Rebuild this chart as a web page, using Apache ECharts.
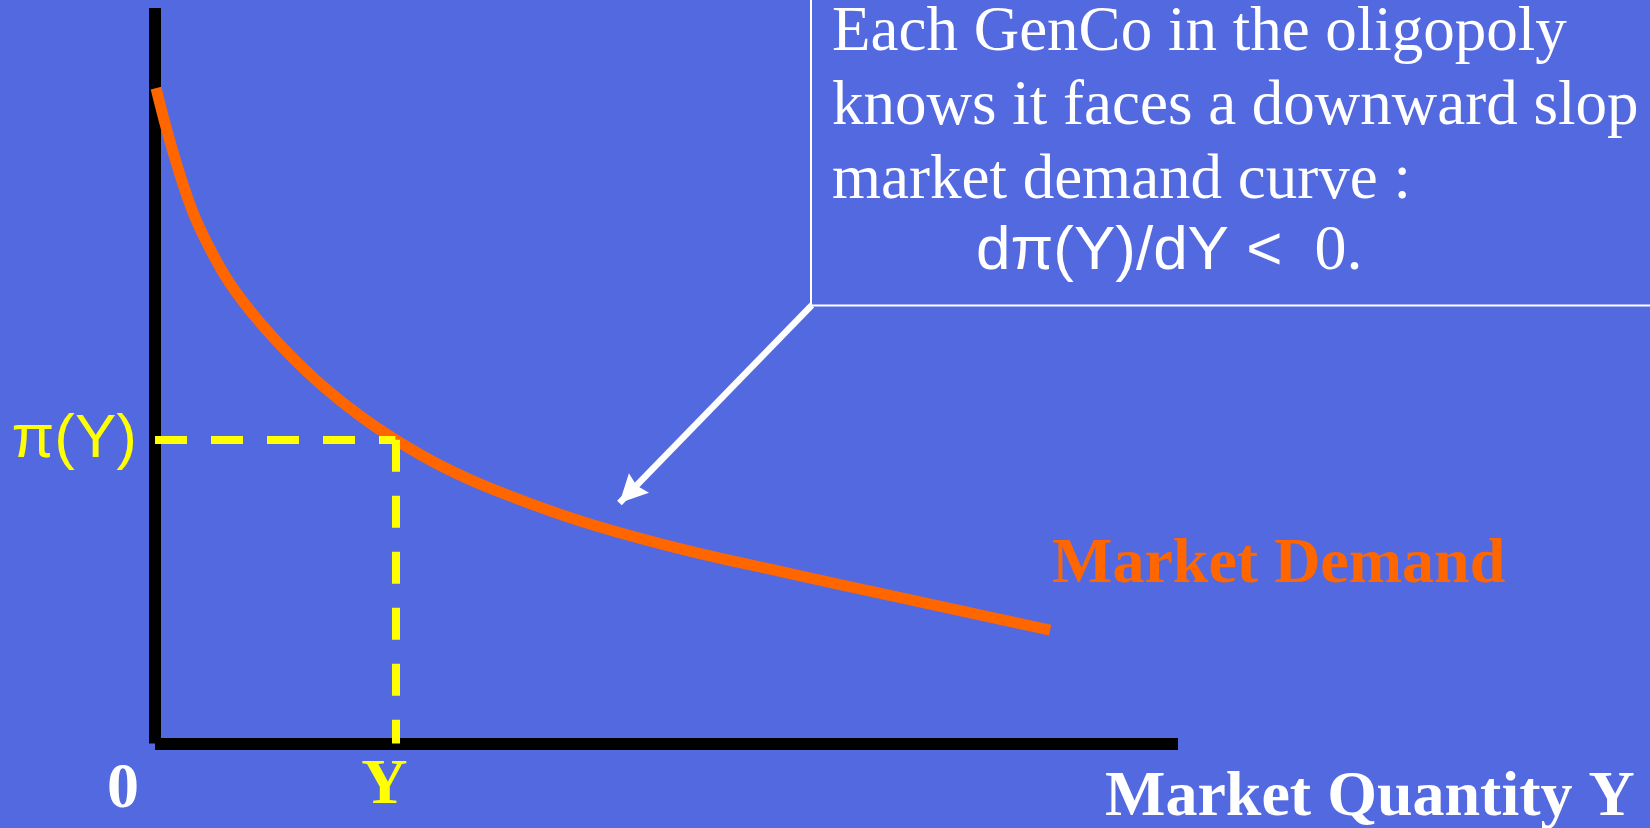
<!DOCTYPE html>
<html>
<head>
<meta charset="utf-8">
<style>
html, body { margin: 0; padding: 0; background: #5369e0; }
#chart { width: 1650px; height: 828px; }
</style>
<script src="https://cdn.jsdelivr.net/npm/echarts@6/dist/echarts.min.js"></script>
</head>
<body>
<div id="chart"></div>
<script>
// Market demand curve: quantity (x) against price (y), axis units 0-100
const demandQuantity = [0.1, 1.6, 3.6, 5.4, 7.3, 10.1, 13.2, 16.4, 20.0, 23.5, 27.9, 32.8, 41.5, 51.3, 61.1, 73.3, 87.5];
const demandPrice    = [89.1, 81.2, 72.6, 67.2, 62.6, 57.5, 52.8, 48.6, 44.6, 41.3, 37.8, 34.7, 30.3, 26.5, 23.4, 19.7, 15.4];

// Chosen market quantity Y and the price π(Y) on the curve
const quantityY = 23.5;
const priceAtY = 41.3;

// Pointer from the note box down to the curve (data coordinates)
const arrowFrom = [64.2, 59.6];
const arrowTo = [45.4, 32.7];

// Axis extents
const xRange = [0, 100];
const yRange = [0, 100];

// Text
const noteLines = ['Each GenCo in the oligopoly', 'knows it faces a downward slop', 'market demand curve :'];
const noteFormula = ['dπ(Y)/dY <', '  0.'];
const originLabel = '0';
const quantityLabel = 'Y';
const priceLabel = 'π(Y)';
const curveLabel = 'Market Demand';
const xAxisTitle = 'Market Quantity Y';

const SERIF = '"Liberation Serif", "Times New Roman", serif';
const SANS = '"Liberation Sans", Arial, sans-serif';
const ORANGE = '#ff6600';
const YELLOW = '#ffff00';

const chart = echarts.init(document.getElementById('chart'), null, { renderer: 'canvas' });

const demandData = demandQuantity.map((q, i) => [q, demandPrice[i]]);

const noteTexts = noteLines.map((line, i) => ({
  type: 'text',
  left: 832,
  top: 2 + i * 74,
  silent: true,
  style: { text: line, font: '63px ' + SERIF, fill: '#ffffff' }
}));

const option = {
  backgroundColor: '#5369e0',
  animation: false,
  grid: { left: 155, right: 472, top: 8, bottom: 84.5, containLabel: false },
  xAxis: {
    type: 'value', min: xRange[0], max: xRange[1],
    axisLine: { show: true, onZero: false, lineStyle: { color: '#000', width: 12, cap: 'butt' } },
    axisTick: { show: false }, axisLabel: { show: false }, splitLine: { show: false }
  },
  yAxis: {
    type: 'value', min: yRange[0], max: yRange[1],
    axisLine: { show: true, onZero: false, lineStyle: { color: '#000', width: 12, cap: 'butt' } },
    axisTick: { show: false }, axisLabel: { show: false }, splitLine: { show: false }
  },
  series: [
    {
      name: curveLabel,
      type: 'line',
      z: 2,
      data: demandData,
      smooth: 0.4,
      showSymbol: false,
      silent: true,
      lineStyle: { color: ORANGE, width: 11, cap: 'butt' }
    },
    {
      // dashed guides from π(Y) and Y to the curve
      type: 'line',
      z: 3,
      data: [],
      silent: true,
      markLine: {
        silent: true,
        symbol: ['none', 'none'],
        animation: false,
        lineStyle: { color: YELLOW, width: 8, type: [32, 24], cap: 'butt' },
        emphasis: { disabled: true },
        data: [
          [
            {
              coord: [xRange[0], priceAtY],
              label: {
                show: true, position: 'start', distance: 18, formatter: priceLabel,
                color: YELLOW, fontFamily: SANS, fontSize: 62, padding: [0, 0, 11, 0]
              }
            },
            { coord: [quantityY, priceAtY] }
          ],
          [
            {
              coord: [quantityY, priceAtY],
              label: {
                show: true, position: 'end', distance: 11, formatter: quantityLabel,
                color: YELLOW, fontFamily: SERIF, fontWeight: 'bold', fontSize: 64,
                padding: [0, 22, 0, 0]
              }
            },
            { coord: [quantityY, yRange[0]] }
          ]
        ]
      }
    },
    {
      // pointer from the note to the curve
      type: 'line',
      z: 4,
      data: [],
      silent: true,
      markLine: {
        silent: true,
        animation: false,
        symbol: ['none', 'path://M0,0 L12,24 L0,21 L-12,24 Z'],
        symbolSize: [28, 28],
        symbolOffset: [[0, 0], [0, 14]],
        label: { show: false },
        emphasis: { disabled: true },
        lineStyle: { color: '#ffffff', width: 6.5, type: 'solid', cap: 'butt', opacity: 1 },
        itemStyle: { color: '#ffffff' },
        data: [[{ coord: arrowFrom }, { coord: arrowTo }]]
      }
    }
  ],
  graphic: [
    {
      type: 'rect',
      silent: true,
      shape: { x: 811, y: -10, width: 900, height: 315.5 },
      style: { fill: 'none', stroke: '#ffffff', lineWidth: 2 }
    },
    ...noteTexts,
    {
      type: 'text',
      left: 976,
      top: 220,
      silent: true,
      style: {
        text: '{s|' + noteFormula[0] + '}{t|' + noteFormula[1] + '}',
        fill: '#ffffff',
        rich: {
          s: { fontFamily: SANS, fontSize: 62, color: '#ffffff' },
          t: { fontFamily: SERIF, fontSize: 64, color: '#ffffff' }
        }
      }
    },
    {
      type: 'text',
      left: 1052,
      top: 533,
      silent: true,
      style: { text: curveLabel, font: 'bold 64px ' + SERIF, fill: ORANGE }
    },
    {
      type: 'text',
      left: 1105,
      top: 766,
      silent: true,
      style: { text: xAxisTitle, font: 'bold 64px ' + SERIF, fill: '#ffffff' }
    },
    {
      type: 'text',
      left: 107,
      top: 758,
      silent: true,
      style: { text: originLabel, font: 'bold 64px ' + SERIF, fill: '#ffffff' }
    }
  ]
};

chart.setOption(option);
</script>
</body>
</html>
